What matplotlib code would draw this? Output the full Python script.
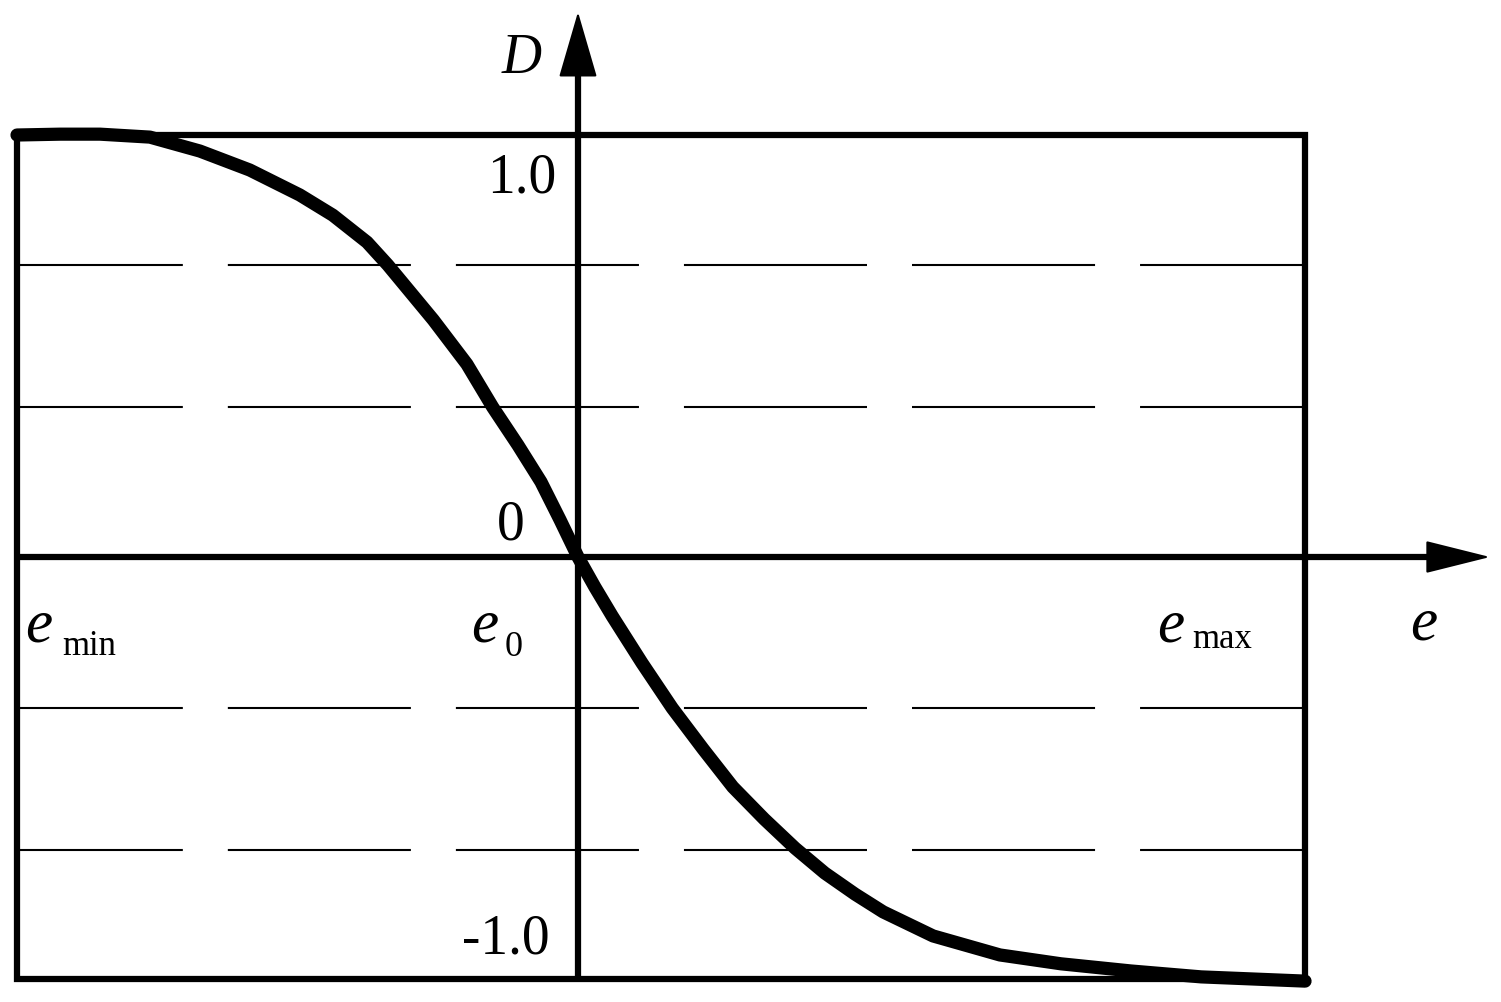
"""
Duty ratio D versus error e: S-shaped control curve inside the e_min..e_max box
"""

import matplotlib
matplotlib.use('Agg')
import matplotlib.pyplot as plt

plt.rcParams['font.family'] = ['Liberation Serif', 'DejaVu Serif']
plt.rcParams['lines.scale_dashes'] = False

# box limits (e normalised so that e_min = -1, e0 sits on the D axis)
e_min = -1.0
e_max = 1.296
d_top = 1.0
d_bot = -1.0

# dashed guide levels
guide_levels = [0.692, 0.355, -0.358, -0.694]

# the curve
curve_e = [-1.0, -0.923, -0.852, -0.763, -0.674, -0.585, -0.496, -0.437,
           -0.376, -0.339, -0.258, -0.198, -0.152, -0.107, -0.066, -0.032,
           0.0, 0.030, 0.061, 0.114, 0.168, 0.223, 0.276, 0.332,
           0.387, 0.440, 0.494, 0.544, 0.633, 0.752, 0.861, 0.986, 1.111, 1.296]
curve_d = [1.0, 1.002, 1.002, 0.995, 0.962, 0.917, 0.858, 0.810,
           0.746, 0.692, 0.562, 0.457, 0.355, 0.265, 0.178, 0.088,
           0.0, -0.071, -0.140, -0.251, -0.358, -0.455, -0.545, -0.621,
           -0.690, -0.749, -0.799, -0.841, -0.898, -0.943, -0.964, -0.981, -0.995, -1.005]

# tick texts on the D axis
d_tick_labels = ['1.0', '0', '-1.0']
d_tick_values = [0.867, 0.043, -0.938]

fig = plt.figure(figsize=(15.01, 10.03), dpi=100)
ax = fig.add_axes([0, 0, 1, 1])
ax.set_xlim(-1.0303, 1.6453)
ax.set_ylim(-1.0545, 1.3223)
ax.axis('off')

# dashed guides
for lvl in guide_levels:
    ax.plot([e_min, e_max], [lvl, lvl], color='k', lw=1.5,
            linestyle=(12.4, (131.8, 32.4)), solid_capstyle='butt')

# box
ax.plot([e_min, e_max, e_max, e_min, e_min], [d_top, d_top, d_bot, d_bot, d_top],
        color='k', lw=4.5, solid_joinstyle='miter')

# axes with arrows
ax.plot([0, 0], [d_bot, 1.22], color='k', lw=4.5, solid_capstyle='butt')
ax.plot([e_min, 1.55], [0, 0], color='k', lw=4.5, solid_capstyle='butt')
ax.annotate('', xy=(0, 1.2915), xytext=(0, 1.1),
            arrowprops=dict(arrowstyle='-|>,head_length=43,head_width=12.5',
                            mutation_scale=1, lw=1.5, color='k',
                            shrinkA=0, shrinkB=0))
ax.annotate('', xy=(1.6257, 0), xytext=(1.45, 0),
            arrowprops=dict(arrowstyle='-|>,head_length=42,head_width=10.5',
                            mutation_scale=1, lw=1.5, color='k',
                            shrinkA=0, shrinkB=0))

# the curve
ax.plot(curve_e, curve_d, color='k', lw=9.5, solid_capstyle='round',
        solid_joinstyle='round', zorder=5)

# D axis numbers
for lab, val, x in zip(d_tick_labels, d_tick_values, [-0.039, -0.0945, -0.050]):
    ax.text(x, val, lab, fontsize=40, ha='right', va='baseline')

# axis names
ax.text(-0.1355, 1.149, 'D', fontsize=40, style='italic', ha='left', va='baseline')
ax.text(1.483, -0.194, 'e', fontsize=44, style='italic', ha='left', va='baseline')

# e markers on the e axis
ax.text(-0.9857, -0.197, 'e', fontsize=44, style='italic', ha='left', va='baseline')
ax.text(-0.920, -0.230, 'min', fontsize=25, ha='left', va='baseline')
ax.text(-0.191, -0.197, 'e', fontsize=44, style='italic', ha='left', va='baseline')
ax.text(-0.130, -0.232, '0', fontsize=26, ha='left', va='baseline')
ax.text(1.032, -0.197, 'e', fontsize=44, style='italic', ha='left', va='baseline')
ax.text(1.0945, -0.213, 'max', fontsize=25, ha='left', va='baseline')

fig.savefig('out.png', dpi=100)
